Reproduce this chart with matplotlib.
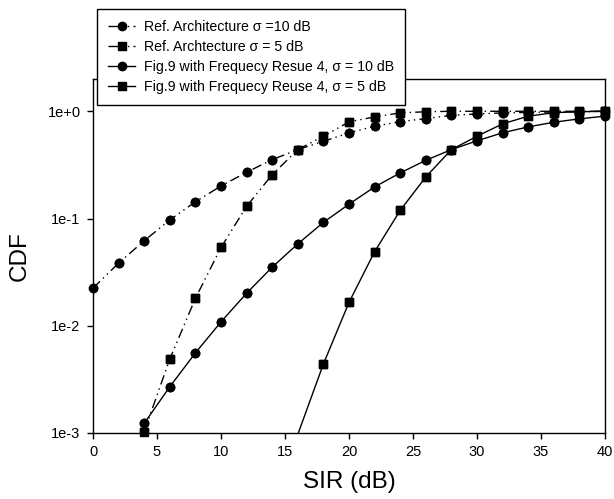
import matplotlib
matplotlib.use("Agg")
import matplotlib.pyplot as plt
import numpy as np

plt.rcParams['font.family'] = ['Liberation Sans', 'DejaVu Sans']

# SIR axis (dB)
sir_ref10 = [0, 2, 4, 6, 8, 10, 12, 14, 16, 18, 20, 22, 24, 26, 28, 30, 32, 34, 36, 38, 40]
cdf_ref10 = [0.0224, 0.0384, 0.062, 0.097, 0.143, 0.201, 0.27, 0.354, 0.439, 0.525,
             0.628, 0.725, 0.80, 0.855, 0.915, 0.945, 0.965, 0.975, 0.985, 0.99, 1.0]

sir_ref5 = [4, 6, 8, 10, 12, 14, 16, 18, 20, 22, 24, 26, 28, 30, 32, 34, 36, 38, 40]
cdf_ref5 = [0.00103, 0.0049, 0.018, 0.0537, 0.13, 0.256, 0.439, 0.585, 0.796, 0.886,
            0.966, 0.99, 1.0, 1.0, 1.0, 1.0, 1.0, 1.0, 1.0]

sir_fig10 = [4, 6, 8, 10, 12, 14, 16, 18, 20, 22, 24, 26, 28, 30, 32, 34, 36, 38, 40]
cdf_fig10 = [0.00123, 0.0027, 0.00558, 0.01087, 0.0201, 0.0352, 0.058, 0.092, 0.136,
             0.197, 0.266, 0.349, 0.439, 0.53, 0.63, 0.715, 0.79, 0.85, 0.90]

sir_fig5 = [16, 18, 20, 22, 24, 26, 28, 30, 32, 34, 36, 38, 40]
cdf_fig5 = [0.00097, 0.0044, 0.0165, 0.049, 0.119, 0.244, 0.439, 0.585, 0.763,
            0.90, 0.97, 0.99, 1.0]

labels = [
    "Ref. Architecture \u03c3 =10 dB",
    "Ref. Archtecture \u03c3 = 5 dB",
    "Fig.9 with Frequecy Resue 4, \u03c3 = 10 dB",
    "Fig.9 with Frequecy Reuse 4, \u03c3 = 5 dB",
]

dashdotdot = (0, (7, 3, 1, 3, 1, 3))
series = [
    (sir_ref10, cdf_ref10, 'o', dashdotdot),
    (sir_ref5, cdf_ref5, 's', dashdotdot),
    (sir_fig10, cdf_fig10, 'o', '-'),
    (sir_fig5, cdf_fig5, 's', '-'),
]

fig = plt.figure(figsize=(6.14, 4.99), dpi=100)
ax = fig.add_axes([0.1515, 0.1323, 0.8338, 0.7094])

ymin = 1e-3
for (x, y, m, ls), lab in zip(series, labels):
    x = np.array(x)
    y = np.array(y)
    ms = 6 if m == 'o' else 5.5
    keep = y >= ymin
    ax.plot(x, y, color='black', lw=1.0, ls=ls, marker=m, markersize=ms,
            markevery=list(np.where(keep)[0]), label=lab, clip_on=True)
    # markers sitting on the bottom edge are not clipped
    ax.plot(x[keep], y[keep], ls='none', marker=m, color='black',
            markersize=ms, clip_on=False, zorder=3)

ax.set_yscale('log')
ax.set_xlim(0, 40)
ax.set_ylim(1e-3, 2.0)
ax.set_xticks([0, 5, 10, 15, 20, 25, 30, 35, 40])
ax.set_yticks([1e-3, 1e-2, 1e-1, 1e0])
ax.set_yticklabels(["1e-3", "1e-2", "1e-1", "1e+0"])
ax.minorticks_off()
ax.tick_params(direction='out', length=4, width=1, labelsize=10.5, pad=5)
for s in ax.spines.values():
    s.set_linewidth(1.0)

ax.set_xlabel("SIR (dB)", fontsize=17.5, labelpad=8)
ax.set_ylabel("CDF", fontsize=17.5, labelpad=12)

handles, labs = ax.get_legend_handles_labels()
leg = fig.legend(handles, labs, loc='upper left', bbox_to_anchor=(0.158, 0.982),
                 borderaxespad=0, fontsize=10.2, frameon=True, fancybox=False,
                 framealpha=1, edgecolor='black', handlelength=1.9,
                 handletextpad=0.6, borderpad=0.8, labelspacing=0.42)
leg.get_frame().set_linewidth(1.0)
leg.set_zorder(10)

fig.savefig("out.png", dpi=100)
